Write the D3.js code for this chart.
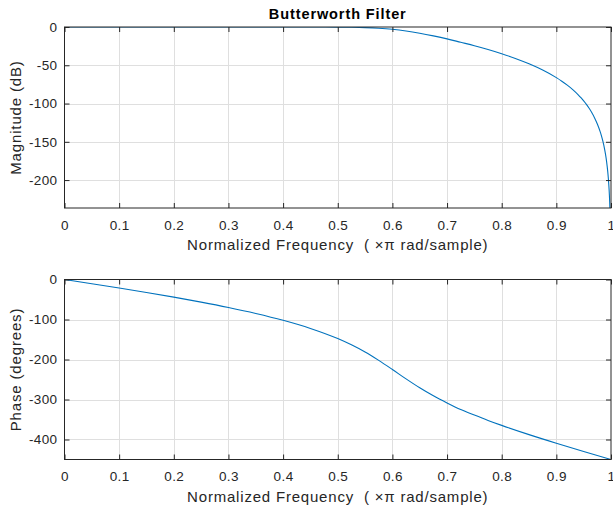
<!DOCTYPE html>
<html>
<head>
<meta charset="utf-8">
<script src="https://cdn.jsdelivr.net/npm/d3@7"></script>
<style>
  body { margin: 0; background: #fff; }
  svg { display: block; font-family: "Liberation Sans", Arial, Helvetica, sans-serif; }
  .xlab { white-space: pre; }
</style>
</head>
<body>
<div id="chart"></div>
<script>
// Data
const magFreq = [0, 0.1, 0.2, 0.3, 0.4, 0.45, 0.5, 0.525, 0.55, 0.575,
  0.6, 0.625, 0.65, 0.675, 0.7, 0.725, 0.75, 0.775, 0.8, 0.825,
  0.85, 0.875, 0.9, 0.91, 0.92, 0.93, 0.94, 0.945, 0.95, 0.955,
  0.96, 0.965, 0.97, 0.975, 0.98, 0.982, 0.985, 0.988, 0.99, 0.992,
  0.994, 0.995, 0.996, 0.997, 0.998, 1];
const magDb = [0, 0, 0, 0, -0.01, -0.04, -0.17, -0.38, -0.79, -1.6,
  -3.01, -5.2, -8.12, -11.62, -15.53, -19.97, -24.42, -29.44, -34.95, -41.07,
  -48.09, -56.26, -66.16, -70.8, -75.98, -81.83, -88.57, -92.31, -96.53, -101.12,
  -106.25, -112.07, -118.77, -126.7, -136.4, -141.0, -148.9, -158.6, -166.51, -176.2,
  -188.7, -196.6, -206.3, -218.8, -236.4, -300];

const phaseFreq = [0, 0.05, 0.1, 0.15, 0.2, 0.25, 0.3, 0.35, 0.4, 0.45,
  0.5, 0.525, 0.55, 0.575, 0.6, 0.625, 0.65, 0.675, 0.7, 0.725,
  0.75, 0.775, 0.8, 0.85, 0.9, 0.95, 1];
const phaseDeg = [0, -10.61, -21.37, -32.47, -44.09, -56.47, -69.93, -84.88, -101.97, -122.28,
  -147.68, -163.39, -181.31, -202.26, -225, -248.49, -270.78, -290.83, -308.62, -325.08,
  -338.93, -352.25, -364.72, -387.84, -409.33, -429.89, -450];

const xTicks = [0, 0.1, 0.2, 0.3, 0.4, 0.5, 0.6, 0.7, 0.8, 0.9, 1];
const magTicks = [-200, -150, -100, -50, 0];
const phaseTicks = [-400, -300, -200, -100, 0];

const W = 613, H = 509;
const axCol = "#262626", gridCol = "#dfdfdf", lineCol = "#0072BD";

const svg = d3.select("#chart").append("svg")
  .attr("width", W)
  .attr("height", H);

const x = d3.scaleLinear().domain([0, 1]).range([64.5, 611]);

function panel(opts) {
  const y = d3.scaleLinear().domain(opts.yDomain).range([opts.bottom, opts.top]);
  const g = svg.append("g");
  const [x0, x1] = x.range();

  // grid
  g.append("g").selectAll("line.vg")
    .data(xTicks.slice(1, -1))
    .enter().append("line")
    .attr("x1", d => Math.round(x(d)) + 0.5).attr("x2", d => Math.round(x(d)) + 0.5)
    .attr("y1", opts.top).attr("y2", opts.bottom)
    .attr("stroke", gridCol);
  g.append("g").selectAll("line.hg")
    .data(opts.yTicks.filter(d => d !== opts.yDomain[1]))
    .enter().append("line")
    .attr("x1", x0).attr("x2", x1)
    .attr("y1", d => Math.round(y(d)) + 0.5).attr("y2", d => Math.round(y(d)) + 0.5)
    .attr("stroke", gridCol);

  // curve
  const clipId = "clip" + opts.id;
  svg.append("defs").append("clipPath").attr("id", clipId)
    .append("rect")
    .attr("x", x0).attr("y", opts.top)
    .attr("width", x1 - x0).attr("height", opts.bottom - opts.top);
  const pts = opts.xs.map((d, i) => [d, opts.ys[i]]);
  g.append("path")
    .datum(pts)
    .attr("clip-path", `url(#${clipId})`)
    .attr("fill", "none")
    .attr("stroke", lineCol)
    .attr("stroke-width", 1.1)
    .attr("d", d3.line().x(d => x(d[0])).y(d => y(d[1])).curve(d3.curveMonotoneX));

  // axes with inward ticks
  const fmt = d => String(d);
  const bottomAx = g.append("g").attr("transform", `translate(0,${opts.bottom})`)
    .call(d3.axisBottom(x).tickValues(xTicks).tickSize(-5).tickPadding(12).tickFormat(fmt));
  const topAx = g.append("g").attr("transform", `translate(0,${opts.top})`)
    .call(d3.axisTop(x).tickValues(xTicks).tickSize(-5).tickFormat(""));
  const leftAx = g.append("g").attr("transform", `translate(${x0},0)`)
    .call(d3.axisLeft(y).tickValues(opts.yTicks).tickSize(-5).tickPadding(7).tickFormat(fmt));
  const rightAx = g.append("g").attr("transform", `translate(${x1},0)`)
    .call(d3.axisRight(y).tickValues(opts.yTicks).tickSize(-5).tickFormat(""));

  [bottomAx, topAx, leftAx, rightAx].forEach(a => {
    a.selectAll(".tick line").attr("stroke", axCol);
    a.selectAll("text")
      .attr("fill", axCol)
      .attr("font-size", "13.5px")
      .attr("letter-spacing", "0.4px")
      .attr("font-family", null);
  });
  // box instead of domain paths
  g.selectAll(".domain").remove();
  g.append("rect")
    .attr("x", x0).attr("y", opts.top)
    .attr("width", x1 - x0).attr("height", opts.bottom - opts.top)
    .attr("fill", "none")
    .attr("stroke", axCol)
    .attr("stroke-width", 1);

  // labels
  g.append("text")
    .attr("class", "xlab")
    .attr("x", (x0 + x1) / 2)
    .attr("y", opts.bottom + 42)
    .attr("text-anchor", "middle")
    .attr("font-size", "15px")
    .attr("letter-spacing", "0.8px")
    .attr("fill", axCol)
    .text("Normalized Frequency  ( \u00d7\u03c0 rad/sample)");

  g.append("text")
    .attr("transform", `translate(21,${(opts.top + opts.bottom) / 2}) rotate(-90)`)
    .attr("text-anchor", "middle")
    .attr("font-size", "15px")
    .attr("letter-spacing", "0.85px")
    .attr("fill", axCol)
    .text(opts.yLabel);

  return { y, g };
}

panel({
  id: "mag", top: 27, bottom: 208, yDomain: [-236.5, 0], yTicks: magTicks,
  xs: magFreq, ys: magDb, yLabel: "Magnitude (dB)"
});
panel({
  id: "phase", top: 279.5, bottom: 459.5, yDomain: [-450, 0], yTicks: phaseTicks,
  xs: phaseFreq, ys: phaseDeg, yLabel: "Phase (degrees)"
});

// title
svg.append("text")
  .attr("x", (x.range()[0] + x.range()[1]) / 2)
  .attr("y", 19)
  .attr("text-anchor", "middle")
  .attr("font-size", "14.5px")
  .attr("font-weight", "bold")
  .attr("letter-spacing", "0.9px")
  .attr("fill", "#000")
  .text("Butterworth Filter");
</script>
</body>
</html>
